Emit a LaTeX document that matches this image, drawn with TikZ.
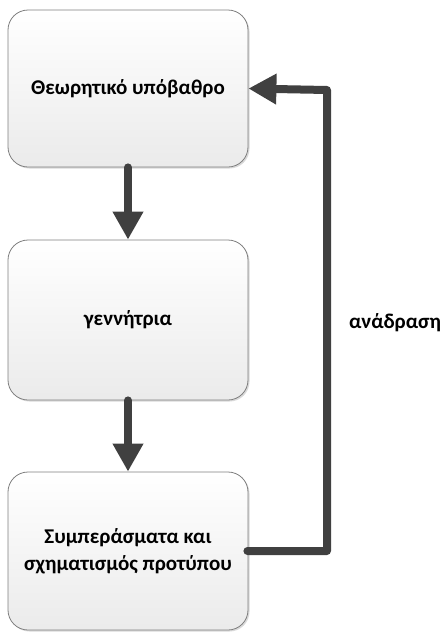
\documentclass[tikz,border=0pt]{standalone}
\usepackage{fontspec}
\setmainfont{Carlito}
\usetikzlibrary{arrows.meta,shadows,positioning}
\definecolor{arrowgray}{HTML}{404040}
\definecolor{boxborder}{HTML}{7F7F7F}
\tikzset{
  box/.style={draw=boxborder, line width=0.8pt, rounded corners=20pt,
    minimum width=240pt, minimum height=158pt, inner sep=0pt,
    top color=white, bottom color=black!8,
    drop shadow={shadow xshift=1.5pt, shadow yshift=-1.5pt, opacity=0.25, fill=black!60},
    font=\fontsize{21}{27}\selectfont\bfseries, align=center, text=black},
  flow/.style={draw=arrowgray, line width=8pt, line cap=round,
    -{Triangle[width=29pt,length=28pt]}},
  lbl/.style={font=\fontsize{21}{27}\selectfont\bfseries, text=black}
}
\begin{document}
\begin{tikzpicture}[x=1pt,y=-1pt]
\useasboundingbox (0,0) rectangle (444,633);
\node[box, minimum height=157pt] (b1) at (128,88.5) {Θεωρητικό υπόβαθρο};
\node[box, minimum height=160pt] (b2) at (128,320) {γεννήτρια};
\node[box, minimum height=158pt] (b3) at (128,551) {Συμπεράσματα και\\σχηματισμός προτύπου};
\draw[flow] (b1.south) -- (b2.north);
\draw[flow] (b2.south) -- (b3.north);
\coordinate (c1) at (327,551);
\coordinate (c2) at (327,90);
\draw[flow, line join=round, shorten <=-1pt] (b3.east) -- (c1) -- (c2) -- (b1.east);
\node[lbl] (fb) at (395,323) {ανάδραση};
\end{tikzpicture}
\end{document}
